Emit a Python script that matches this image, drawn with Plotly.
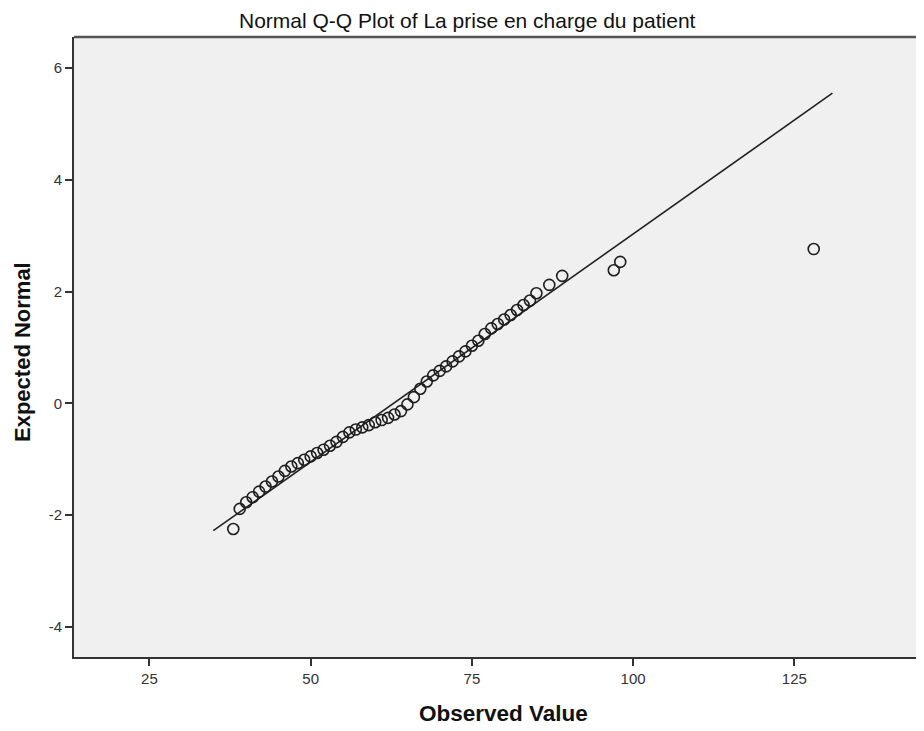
import plotly.graph_objects as go

# Observed values (x) and expected normal quantiles (y)
observed = [38, 39, 40, 41, 42, 43, 44, 45, 46, 47, 48, 49, 50, 51, 52, 53, 54, 55,
            56, 57, 58, 59, 60, 61, 62, 63, 64, 65, 66, 67, 68, 69, 70, 71, 72, 73,
            74, 75, 76, 77, 78, 79, 80, 81, 82, 83, 84, 85, 87, 89, 97, 98, 128]
expected = [-2.25, -1.89, -1.77, -1.68, -1.58, -1.49, -1.40, -1.31, -1.21, -1.13,
            -1.07, -1.01, -0.95, -0.89, -0.83, -0.76, -0.69, -0.60, -0.52, -0.47,
            -0.43, -0.39, -0.34, -0.30, -0.26, -0.20, -0.14, -0.02, 0.11, 0.26,
            0.39, 0.50, 0.58, 0.66, 0.75, 0.84, 0.93, 1.03, 1.12, 1.24, 1.34,
            1.42, 1.50, 1.58, 1.67, 1.76, 1.84, 1.97, 2.12, 2.28, 2.38, 2.53, 2.76]

# Reference normal line endpoints
ref_x = [34.9, 130.9]
ref_y = [-2.28, 5.55]

x_ticks = [25, 50, 75, 100, 125]
y_ticks = [-4, -2, 0, 2, 4, 6]

title_text = "Normal Q-Q Plot of La prise en charge du patient"
x_title = "Observed Value"
y_title = "Expected Normal"

FONT = "Liberation Sans, Arial, sans-serif"

# page body adds an 8px offset; keep figure inside the window so no scrollbars
# plot area on screen spans x 74..924, y 37..657
W, H = 916, 723
L, R, T, B = 66, 0, 29, 74
PW, PH = W - L - R, H - T - B  # 850 x 620
OX, OY = 74, 37  # screen position of plot area top-left


def px(xs):
    return (xs - OX) / PW


def py(ys):
    return 1 - (ys - OY) / PH


fig = go.Figure()
fig.add_trace(go.Scatter(x=ref_x, y=ref_y, mode="lines",
                         line=dict(color="#222222", width=1.6),
                         hoverinfo="skip", showlegend=False))
fig.add_trace(go.Scatter(x=observed, y=expected, mode="markers",
                         marker=dict(symbol="circle-open", size=11, color="#1e1e1e",
                                     line=dict(width=1.6)),
                         showlegend=False))

fig.update_layout(
    width=W, height=H,
    margin=dict(l=L, r=R, t=T, b=B),
    paper_bgcolor="white",
    plot_bgcolor="#f0f0f0",
    font=dict(family=FONT, color="#222222"),
    showlegend=False,
    xaxis=dict(range=[13.3, 145.1], tickvals=x_ticks, ticktext=[str(v) for v in x_ticks],
               ticks="outside", ticklen=7, tickwidth=1.5, tickcolor="#333333",
               showline=True, linecolor="#333333", linewidth=2,
               showgrid=False, zeroline=False, tickfont=dict(size=15, color="#333333")),
    yaxis=dict(range=[-4.54, 6.555], tickvals=y_ticks, ticktext=[str(v) for v in y_ticks],
               ticks="outside", ticklen=7, tickwidth=1.5, tickcolor="#333333",
               showline=True, linecolor="#333333", linewidth=2,
               showgrid=False, zeroline=False, tickfont=dict(size=15, color="#333333")),
    shapes=[dict(type="line", xref="paper", yref="paper", x0=0, x1=1, y0=1, y1=1,
                 line=dict(color="#555555", width=2.5))],
    annotations=[
        dict(text=title_text, xref="paper", yref="paper", x=px(467), y=py(21),
             xanchor="center", yanchor="middle", showarrow=False,
             font=dict(size=21, color="#111111")),
        dict(text="<b>" + x_title + "</b>", xref="paper", yref="paper", x=px(503.5),
             y=py(713), xanchor="center", yanchor="middle", showarrow=False,
             font=dict(size=22.5, color="#111111")),
        dict(text="<b>" + y_title + "</b>", xref="paper", yref="paper", x=px(22),
             y=py(352), xanchor="center", yanchor="middle", textangle=-90,
             showarrow=False, font=dict(size=22, color="#111111")),
    ],
)

fig.write_html("out.html")
